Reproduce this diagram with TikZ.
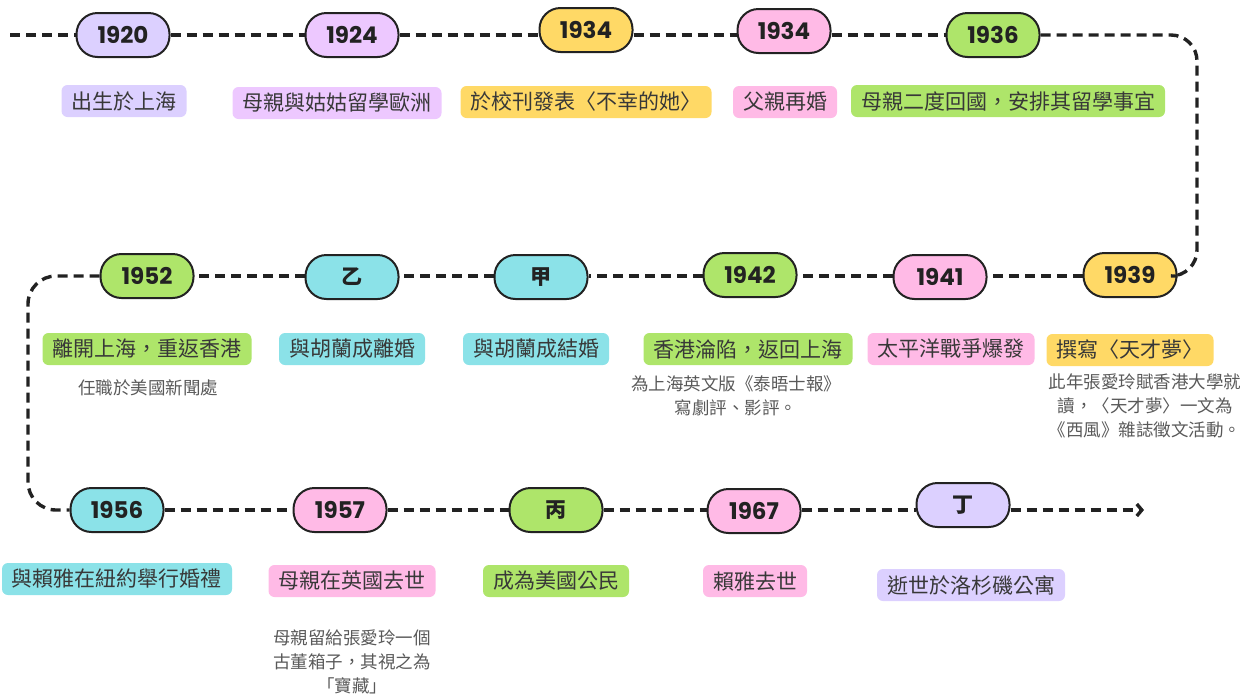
\documentclass[tikz,border=0pt]{standalone}
\usepackage{fontspec}
\newfontfamily\cjk{Noto Sans CJK TC}
\newfontfamily\yearfont{Poppins}
\usetikzlibrary{arrows.meta}

\definecolor{lilac}{HTML}{DCD0FF}
\definecolor{orchid}{HTML}{EDC8FF}
\definecolor{sun}{HTML}{FFD966}
\definecolor{rose}{HTML}{FFBAE6}
\definecolor{lime}{HTML}{AEE56A}
\definecolor{aqua}{HTML}{8BE2E8}
\definecolor{ink}{HTML}{222222}

\tikzset{
  year/.style={draw=ink, line width=2pt, rounded corners=21pt, minimum width=93pt,
    minimum height=44pt, inner sep=0pt, text=ink, font=\yearfont\bfseries\fontsize{23}{23}\selectfont},
  han/.style={year, font=\cjk\bfseries\fontsize{21}{21}\selectfont},
  event/.style={rounded corners=6pt, inner xsep=10pt, inner ysep=0pt, minimum height=32pt,
    text=ink!90, font=\cjk\fontsize{21}{21}\selectfont},
  remark/.style={align=center, text=ink!75, font=\cjk\fontsize{17.5}{24}\selectfont},
  trail/.style={ink, line width=3.4pt, dash pattern=on 10pt off 6pt}
}

\begin{document}
\begin{tikzpicture}[x=1pt, y=-1pt]
    \useasboundingbox (0,0) rectangle (1256,697);

    % first row
    \node[year, fill=lilac] (y20) at (123,35) {1920};
    \node[year, fill=orchid] (y24) at (352,35) {1924};
    \node[year, fill=sun] (y34a) at (586,30) {1934};
    \node[year, fill=rose] (y34b) at (784,31) {1934};
    \node[year, fill=lime] (y36) at (993,35) {1936};

    \node[event, fill=lilac] (e20) at (124,101) {出生於上海};
    \node[event, fill=orchid] (e24) at (337,103) {母親與姑姑留學歐洲};
    \node[event, fill=sun] (e34a) at (586,102) {於校刊發表〈不幸的她〉};
    \node[event, fill=rose] (e34b) at (785,102) {父親再婚};
    \node[event, fill=lime] (e36) at (1008,101) {母親二度回國，安排其留學事宜};

    % second row
    \node[year, fill=lime] (y52) at (147,276) {1952};
    \node[han, fill=aqua] (yi) at (352,277) {乙};
    \node[han, fill=aqua] (jia) at (541,277) {甲};
    \node[year, fill=lime] (y42) at (750,275) {1942};
    \node[year, fill=rose] (y41) at (940,277) {1941};
    \node[year, fill=sun] (y39) at (1130,275) {1939};

    \node[event, fill=lime] (e52) at (147,349) {離開上海，重返香港};
    \node[event, fill=aqua] (eyi) at (352,349) {與胡蘭成離婚};
    \node[event, fill=aqua] (ejia) at (536,349) {與胡蘭成結婚};
    \node[event, fill=lime] (e42) at (748,349) {香港淪陷，返回上海};
    \node[event, fill=rose] (e41) at (951,349) {太平洋戰爭爆發};
    \node[event, fill=sun] (e39) at (1130,350) {撰寫〈天才夢〉};

    \node[remark] (n52) at (148,388) {任職於美國新聞處};
    \node[remark] (n42) at (736,396) {為上海英文版《泰晤士報》\\寫劇評、影評。};
    \node[remark] (n39) at (1145,406) {此年張愛玲賦香港大學就\\讀，〈天才夢〉一文為\\《西風》雜誌徵文活動。};

    % third row
    \node[year, fill=aqua] (y56) at (117,510) {1956};
    \node[year, fill=rose] (y57) at (340,510) {1957};
    \node[han, fill=lime] (bing) at (556,510) {丙};
    \node[year, fill=rose] (y67) at (754,511) {1967};
    \node[han, fill=lilac] (ding) at (963,505) {丁};

    \node[event, fill=aqua] (e56) at (117,579) {與賴雅在紐約舉行婚禮};
    \node[event, fill=rose] (e57) at (352,581) {母親在英國去世};
    \node[event, fill=lime] (ebing) at (556,581) {成為美國公民};
    \node[event, fill=rose] (e67) at (755,581) {賴雅去世};
    \node[event, fill=lilac] (eding) at (971,585) {逝世於洛杉磯公寓};

    \node[remark] (n57) at (352,662) {母親留給張愛玲一個\\古董箱子，其視之為\\「寶藏」};

    % the dashed trail
    \coordinate (start) at (10,35);
    \coordinate (ne) at (1197,35);
    \coordinate (se) at (1197,276);
    \coordinate (nw) at (28,276);
    \coordinate (sw) at (28,510);
    \coordinate (stop) at (1144,510);

    \draw[trail] (start) -- (y20);
    \draw[trail] (y20) -- (y24);
    \draw[trail] (y24) -- (y34a.west |- y24);
    \draw[trail] (y34a.east |- y24) -- (y34b.west |- y24);
    \draw[trail] (y34b.east |- y24) -- (y36);
    \draw[trail, rounded corners=26pt] (y36) -- (ne) -- (se) -- (y39.east |- se);

    \draw[trail] (y39.west |- se) -- (y41.east |- se);
    \draw[trail] (y41.west |- se) -- (y42.east |- se);
    \draw[trail] (y42.west |- se) -- (jia.east |- se);
    \draw[trail] (jia.west |- se) -- (yi.east |- se);
    \draw[trail] (yi.west |- se) -- (y52.east |- se);
    \draw[trail, rounded corners=28pt] (y52.west |- nw) -- (nw) -- (sw) -- (y56);

    \draw[trail] (y56) -- (y57);
    \draw[trail] (y57) -- (bing);
    \draw[trail] (bing) -- (y67.west |- bing);
    \draw[trail] (y67.east |- bing) -- (ding.west |- bing);
    \draw[trail, -{Straight Barb[length=5pt, width=12pt]}] (ding.east |- bing) -- (stop);

\end{tikzpicture}
\end{document}
